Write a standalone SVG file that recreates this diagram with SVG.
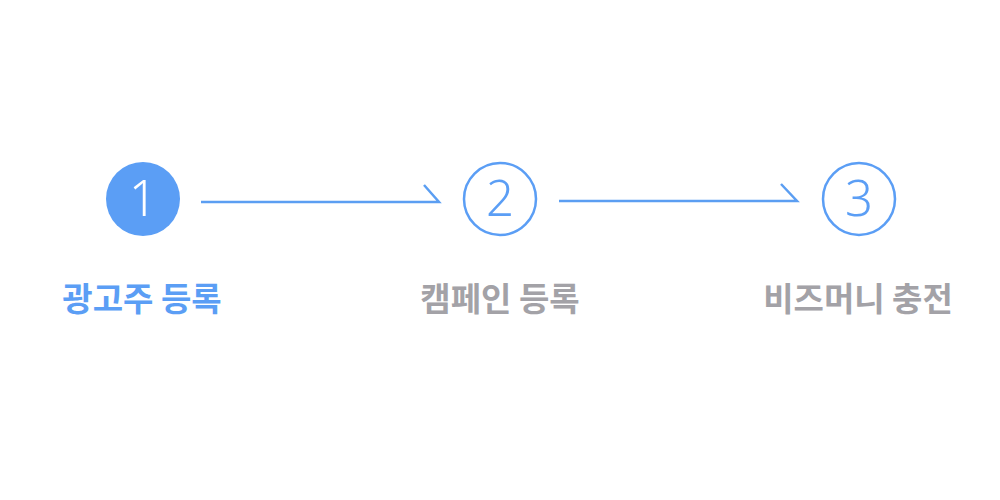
<svg xmlns="http://www.w3.org/2000/svg" width="1000" height="500" viewBox="0 0 1000 500">
<style>
.num{font-family:"Noto Sans","Noto Sans CJK KR",sans-serif;font-weight:300;font-size:49px;text-anchor:middle}
.lbl{font-family:"Noto Sans CJK KR",sans-serif;font-weight:700;font-size:33px;text-anchor:middle}
.conn{stroke:#5b9ef2;stroke-width:2.5;fill:none}
</style>
<rect width="1000" height="500" fill="#ffffff"/>
<g id="connectors">
<path class="conn" d="M201 202H439L424 185"/>
<path class="conn" d="M559 201H797L781 184"/>
</g>
<g id="step1">
<circle cx="143" cy="199" r="37" fill="#5b9ef5"/>
<text class="num" x="143" y="216" fill="#ffffff">1</text>
<text class="lbl" x="142" y="311" fill="#5b9ef5">광고주 등록</text>
</g>
<g id="step2">
<circle cx="500" cy="199" r="36" fill="#ffffff" stroke="#5b9ef5" stroke-width="2.5"/>
<text class="num" x="500" y="216" fill="#5b9ef5">2</text>
<text class="lbl" x="500" y="311" fill="#a3a2a7">캠페인 등록</text>
</g>
<g id="step3">
<circle cx="859" cy="199" r="36" fill="#ffffff" stroke="#5b9ef5" stroke-width="2.5"/>
<text class="num" x="859" y="216" fill="#5b9ef5">3</text>
<text class="lbl" x="858" y="311" fill="#a3a2a7">비즈머니 충전</text>
</g>
</svg>
